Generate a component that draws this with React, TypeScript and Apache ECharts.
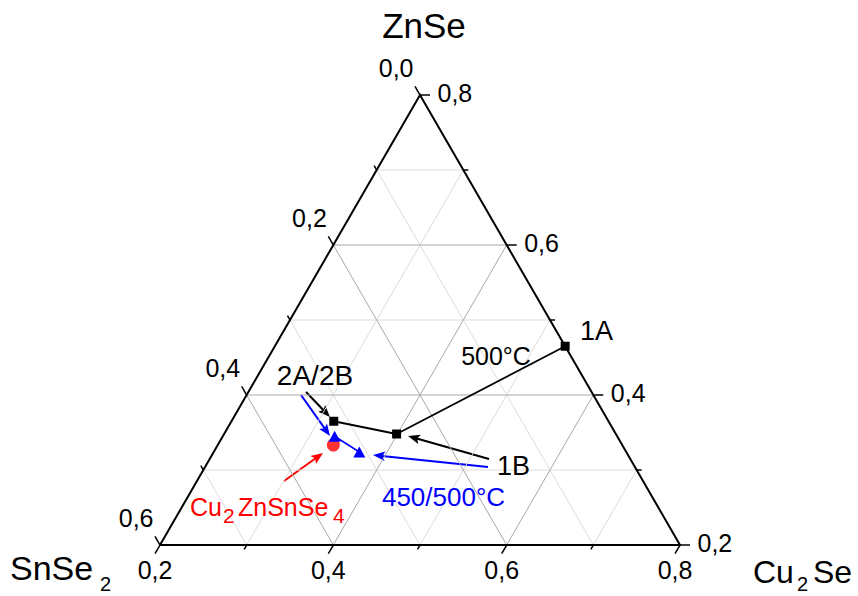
import React, { useEffect, useRef } from 'react';
import * as echarts from 'echarts';

const FONT = '"Liberation Sans", Arial, Helvetica, sans-serif';
const SQ = Math.sqrt(3) / 2;

// ---------- ternary axes (mole fractions) ----------
const cu2seTicks = [0.2, 0.3, 0.4, 0.5, 0.6, 0.7, 0.8]; // bottom axis
const cu2seTickLabels = ['0,2', '', '0,4', '', '0,6', '', '0,8'];
const znseTicks = [0.2, 0.3, 0.4, 0.5, 0.6, 0.7, 0.8]; // right axis
const znseTickLabels = ['0,2', '', '0,4', '', '0,6', '', '0,8'];
const snse2Ticks = [0.0, 0.1, 0.2, 0.3, 0.4, 0.5, 0.6]; // left axis
const snse2TickLabels = ['0,0', '', '0,2', '', '0,4', '', '0,6'];

// ---------- data ----------
// samples annealed at 500 °C (black squares, connected)
const sampleNames = ['2A/2B', '1B', '1A'];
const sampleCu2Se = [0.318, 0.399, 0.535];
const sampleZnSe = [0.365, 0.348, 0.465];

// samples 450/500 °C (blue triangles)
const lowTCu2Se = [0.329, 0.368];
const lowTZnSe = [0.345, 0.324];

// stoichiometric Cu2ZnSnSe4
const cztseCu2Se = [1 / 3];
const cztseZnSe = [1 / 3];

// annotation arrows (tail -> head), in Cu2Se / ZnSe fractions
const arrowFromCu2Se = [0.2665, 0.2627, 0.3004, 0.5223, 0.5265];
const arrowFromZnSe = [0.404, 0.4, 0.2853, 0.3147, 0.304];
const arrowToCu2Se = [0.3108, 0.3235, 0.3267, 0.4135, 0.3858];
const arrowToZnSe = [0.3707, 0.3453, 0.3227, 0.3453, 0.32];
const arrowColors = ['#000000', '#0000ff', '#ff0000', '#000000', '#0000ff'];

const toXY = (c: number, z: number) => [c + z / 2, z * SQ];

const cMin = cu2seTicks[0];
const zMin = znseTicks[0];
const sMin = snse2Ticks[0];

// point on each axis for a tick value
const axisPoint = (axis: number, v: number) => {
  if (axis === 0) return toXY(v, zMin); // Cu2Se bottom
  if (axis === 1) return toXY(1 - sMin - v, v); // ZnSe right
  return toXY(cMin, 1 - v - cMin); // SnSe2 left
};

export default function App() {
  const ref = useRef<HTMLDivElement>(null);

  useEffect(() => {
    if (!ref.current) return;
    const chart = echarts.init(ref.current, undefined, { renderer: 'svg' });

    // grid lines
    const gridSegs: number[][] = [];
    znseTicks.forEach((z, i) => {
      if (i === 0 || i === znseTicks.length - 1) return;
      const a = toXY(cMin, z);
      const b = toXY(1 - sMin - z, z);
      gridSegs.push([a[0], a[1], b[0], b[1], znseTickLabels[i] ? 1 : 0]);
    });
    cu2seTicks.forEach((c, i) => {
      if (i === 0 || i === cu2seTicks.length - 1) return;
      const a = toXY(c, zMin);
      const b = toXY(c, 1 - sMin - c);
      gridSegs.push([a[0], a[1], b[0], b[1], cu2seTickLabels[i] ? 1 : 0]);
    });
    snse2Ticks.forEach((s, i) => {
      if (i === 0 || i === snse2Ticks.length - 1) return;
      const a = toXY(cMin, 1 - s - cMin);
      const b = toXY(1 - s - zMin, zMin);
      gridSegs.push([a[0], a[1], b[0], b[1], snse2TickLabels[i] ? 1 : 0]);
    });

    // ticks
    const tickData: number[][] = [];
    [cu2seTicks, znseTicks, snse2Ticks].forEach((ticks, axis) => {
      ticks.forEach((v, i) => {
        const p = axisPoint(axis, v);
        tickData.push([p[0], p[1], axis, i]);
      });
    });
    const allLabels = [cu2seTickLabels, znseTickLabels, snse2TickLabels];
    const tickDir = [
      [-0.5, SQ],
      [1, 0],
      [-0.5, -SQ],
    ];

    const arrowData = arrowFromCu2Se.map((c, i) => {
      const a = toXY(c, arrowFromZnSe[i]);
      const b = toXY(arrowToCu2Se[i], arrowToZnSe[i]);
      return [a[0], a[1], b[0], b[1], i];
    });

    const frame = [toXY(cMin, zMin), toXY(1 - sMin - zMin, zMin), toXY(cMin, 1 - sMin - cMin), toXY(cMin, zMin)];

    const txt = (text: string, x: number, y: number, size: number, color = '#000000', align = 'center') => ({
      type: 'text',
      x,
      y,
      z: 100,
      style: { text, font: `${size}px ${FONT}`, fill: color, align, verticalAlign: 'middle' },
    });

    const option: any = {
      animation: false,
      backgroundColor: '#ffffff',
      grid: { left: 160, right: 178, top: 95, bottom: 51, containLabel: false },
      xAxis: { type: 'value', min: 0.3, max: 0.9, show: false },
      yAxis: { type: 'value', min: zMin * SQ, max: (1 - sMin - cMin) * SQ, show: false },
      series: [
        {
          type: 'custom',
          name: 'grid',
          coordinateSystem: 'cartesian2d',
          dimensions: ['x', 'y', 'x2', 'y2', 'm'],
          encode: { x: 0, y: 1 },
          silent: true,
          data: gridSegs,
          renderItem: (params: any, api: any) => {
            const p1 = api.coord([api.value(0), api.value(1)]);
            const p2 = api.coord([api.value(2), api.value(3)]);
            const major = api.value(4) === 1;
            return {
              type: 'line',
              z2: major ? 2 : 1,
              shape: { x1: p1[0], y1: p1[1], x2: p2[0], y2: p2[1] },
              style: { stroke: major ? '#a8a8a8' : '#dcdcdc', lineWidth: 1 },
            };
          },
        },
        {
          type: 'line',
          name: 'frame',
          data: frame,
          symbol: 'none',
          clip: false,
          silent: true,
          lineStyle: { color: '#000000', width: 2, join: 'miter' },
        },
        {
          type: 'custom',
          name: 'ticks',
          coordinateSystem: 'cartesian2d',
          dimensions: ['x', 'y', 'axis', 'idx'],
          encode: { x: 0, y: 1 },
          silent: true,
          data: tickData,
          renderItem: (params: any, api: any) => {
            const p = api.coord([api.value(0), api.value(1)]);
            const axis = api.value(2);
            const idx = api.value(3);
            const label = allLabels[axis][idx];
            const len = label ? 10 : 5;
            const d = tickDir[axis];
            const ex = p[0] + d[0] * len;
            const ey = p[1] + d[1] * len;
            const children: any[] = [
              {
                type: 'line',
                shape: { x1: p[0], y1: p[1], x2: ex, y2: ey },
                style: { stroke: '#000000', lineWidth: 1.5 },
              },
            ];
            if (label) {
              let tx = ex;
              let ty = ey;
              let align = 'center';
              if (axis === 0) {
                ty = ey + 16.5;
              } else if (axis === 1) {
                tx = ex + 7.5;
                ty = ey - 2;
                align = 'left';
              } else {
                tx = ex - 1.5;
                ty = ey - 18;
                align = 'right';
              }
              children.push({
                type: 'text',
                x: tx,
                y: ty,
                style: { text: label, font: `25px ${FONT}`, fill: '#000000', align, verticalAlign: 'middle' },
              });
            }
            return { type: 'group', children };
          },
        },
        {
          type: 'custom',
          name: 'arrows',
          coordinateSystem: 'cartesian2d',
          dimensions: ['x', 'y', 'x2', 'y2', 'i'],
          encode: { x: 0, y: 1 },
          silent: true,
          data: arrowData,
          renderItem: (params: any, api: any) => {
            const a = api.coord([api.value(0), api.value(1)]);
            const b = api.coord([api.value(2), api.value(3)]);
            const color = arrowColors[api.value(4)];
            const dx = b[0] - a[0];
            const dy = b[1] - a[1];
            const L = Math.hypot(dx, dy);
            const ux = dx / L;
            const uy = dy / L;
            const nx = -uy;
            const ny = ux;
            const head = 12;
            const hw = 4.8;
            const bx = b[0] - ux * head;
            const by = b[1] - uy * head;
            return {
              type: 'group',
              children: [
                {
                  type: 'line',
                  shape: { x1: a[0], y1: a[1], x2: bx + ux * 3, y2: by + uy * 3 },
                  style: { stroke: color, lineWidth: 2 },
                },
                {
                  type: 'polygon',
                  shape: {
                    points: [
                      [b[0], b[1]],
                      [bx + nx * hw, by + ny * hw],
                      [bx + ux * 2.5, by + uy * 2.5],
                      [bx - nx * hw, by - ny * hw],
                    ],
                  },
                  style: { fill: color, stroke: 'none' },
                },
              ],
            };
          },
        },
        {
          type: 'scatter',
          name: 'Cu2ZnSnSe4',
          data: cztseCu2Se.map((c, i) => toXY(c, cztseZnSe[i])),
          symbol: 'circle',
          symbolSize: 13,
          itemStyle: { color: '#ff0000' },
        },
        {
          type: 'line',
          name: '450/500°C',
          data: lowTCu2Se.map((c, i) => toXY(c, lowTZnSe[i])),
          symbol: 'triangle',
          symbolSize: [12, 11],
          clip: false,
          itemStyle: { color: '#0000ff' },
          lineStyle: { color: '#0000ff', width: 1.5 },
        },
        {
          type: 'line',
          name: '500°C',
          data: sampleCu2Se.map((c, i) => toXY(c, sampleZnSe[i])),
          symbol: 'rect',
          symbolSize: 9,
          clip: false,
          itemStyle: { color: '#000000' },
          lineStyle: { color: '#000000', width: 1.8 },
        },
      ],
      graphic: [
        txt('ZnSe', 424, 25.5, 35),
        txt('SnSe', 10, 567.5, 34, '#000000', 'left'),
        txt('2', 100, 583.5, 20, '#000000', 'left'),
        txt('Cu', 753, 571.5, 32, '#000000', 'left'),
        txt('2', 797, 584, 20, '#000000', 'left'),
        txt('Se', 813, 571.5, 32, '#000000', 'left'),
        txt(sampleNames[2], 596.5, 331, 27),
        txt('500°C', 496, 356, 25),
        txt(sampleNames[0], 315, 375.5, 28),
        txt(sampleNames[1], 513.5, 466, 27),
        txt('450/500°C', 443.5, 496.5, 26, '#0000ff'),
        txt('Cu', 190, 506.5, 25, '#ff0000', 'left'),
        txt('2', 223, 515.5, 21, '#ff0000', 'left'),
        txt('ZnSnSe', 238, 506.5, 25, '#ff0000', 'left'),
        txt('4', 333, 515.5, 21, '#ff0000', 'left'),
      ],
    };

    chart.setOption(option);
    return () => chart.dispose();
  }, []);

  return (
    <div
      ref={ref}
      style={{ position: 'absolute', left: 0, top: 0, width: 858, height: 596, background: '#ffffff' }}
    />
  );
}
